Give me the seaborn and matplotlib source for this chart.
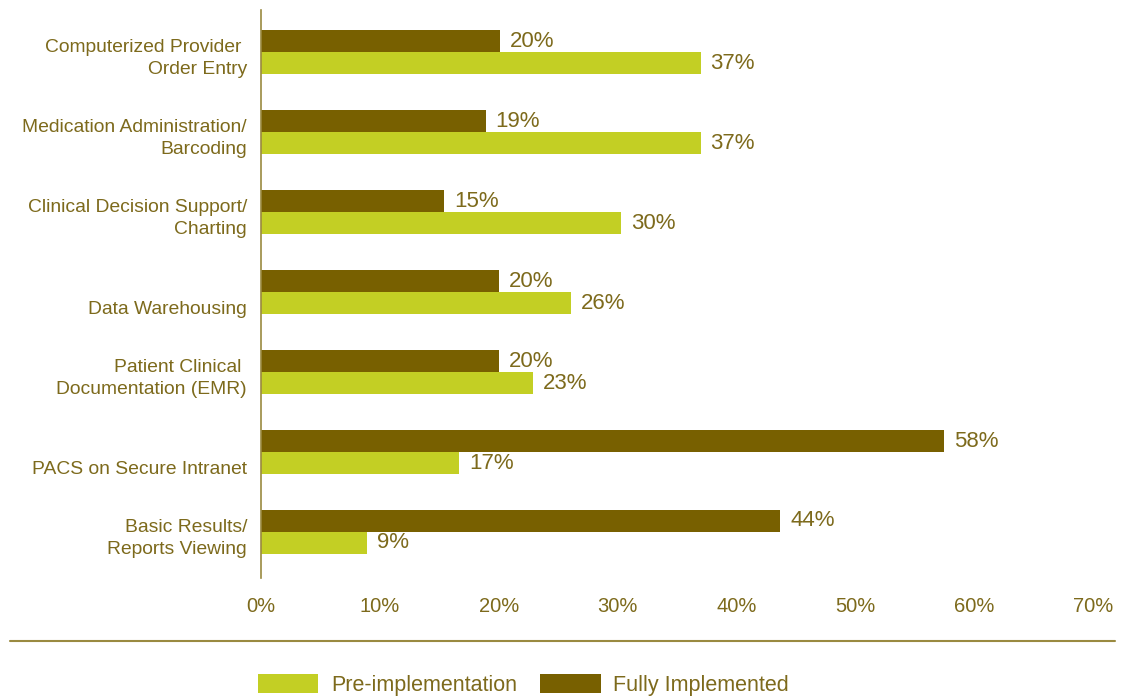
import matplotlib
matplotlib.use("Agg")
import matplotlib.pyplot as plt
import matplotlib.transforms as mtransforms
from matplotlib.patches import Patch
from matplotlib.lines import Line2D
import seaborn as sns
import pandas as pd

categories = [
    "Computerized Provider \nOrder Entry",
    "Medication Administration/\nBarcoding",
    "Clinical Decision Support/\nCharting",
    "\nData Warehousing",
    "Patient Clinical \nDocumentation (EMR)",
    "\nPACS on Secure Intranet",
    "Basic Results/\nReports Viewing",
]
# values
fully_implemented = [20.1, 18.9, 15.4, 20.0, 20.0, 57.5, 43.7]
pre_implementation = [37.0, 37.0, 30.3, 26.1, 22.9, 16.7, 8.9]
# printed labels
fully_labels = ["20%", "19%", "15%", "20%", "20%", "58%", "44%"]
pre_labels = ["37%", "37%", "30%", "26%", "23%", "17%", "9%"]
series_names = ["Fully Implemented", "Pre-implementation"]
x_ticks = [0, 10, 20, 30, 40, 50, 60, 70]

DARK = "#786000"
LIME = "#c3cf24"
TXT = "#7d6a1c"
LINE = "#9a8a40"

sns.set_theme(style="white")
plt.rcParams["font.family"] = ["Liberation Sans", "DejaVu Sans"]

df = pd.DataFrame({
    "category": categories * 2,
    "series": [series_names[0]] * len(categories) + [series_names[1]] * len(categories),
    "value": fully_implemented + pre_implementation,
})

fig = plt.figure(figsize=(11.34, 6.98), dpi=100)
W, H = 1134, 698
ax = fig.add_axes([261 / W, 1 - 578 / H, (1093 - 261) / W, (578 - 10) / H])

sns.barplot(data=df, y="category", x="value", hue="series", order=categories,
            hue_order=series_names, palette=[DARK, LIME], orient="h",
            width=0.55, saturation=1, ax=ax, legend=False, errorbar=None,
            linewidth=0)

for cont, labs in zip(ax.containers, [fully_labels, pre_labels]):
    ax.bar_label(cont, labels=labs, padding=7, fontsize=16, color=TXT)

ax.set_xlim(0, 70)
ax.set_ylim(len(categories) - 1 + 0.575, -0.525)
ax.set_xticks(x_ticks)
ax.set_xticklabels([f"{t}%" for t in x_ticks], fontsize=14.5, color=TXT)
ax.tick_params(axis="x", length=0, pad=14)
ax.tick_params(axis="y", length=0, pad=10)
ax.set_yticklabels(categories, fontsize=13.9, color=TXT, linespacing=1.45)
offset = mtransforms.ScaledTranslation(0, -1.5 / 100, fig.dpi_scale_trans)
for lab in ax.get_yticklabels():
    lab.set_transform(lab.get_transform() + offset)
ax.set_xlabel("")
ax.set_ylabel("")
for s in ["top", "right", "bottom"]:
    ax.spines[s].set_visible(False)
ax.spines["left"].set_color(LINE)
ax.spines["left"].set_linewidth(1.2)

fig.add_artist(Line2D([10 / W, 1115 / W], [1 - 641 / H, 1 - 641 / H],
                      color=LINE, linewidth=1.5, transform=fig.transFigure))

handles = [Patch(facecolor=LIME, edgecolor="none", label=series_names[1]),
           Patch(facecolor=DARK, edgecolor="none", label=series_names[0])]
leg = fig.legend(handles=handles, loc="center left",
                 bbox_to_anchor=(258 / W, 1 - 685 / H), ncol=2, frameon=False,
                 borderpad=0, borderaxespad=0,
                 handlelength=2.8, handleheight=1.0, handletextpad=0.6,
                 columnspacing=1.07, fontsize=15.5)
for t in leg.get_texts():
    t.set_color(TXT)

fig.savefig("out.png", dpi=100)
